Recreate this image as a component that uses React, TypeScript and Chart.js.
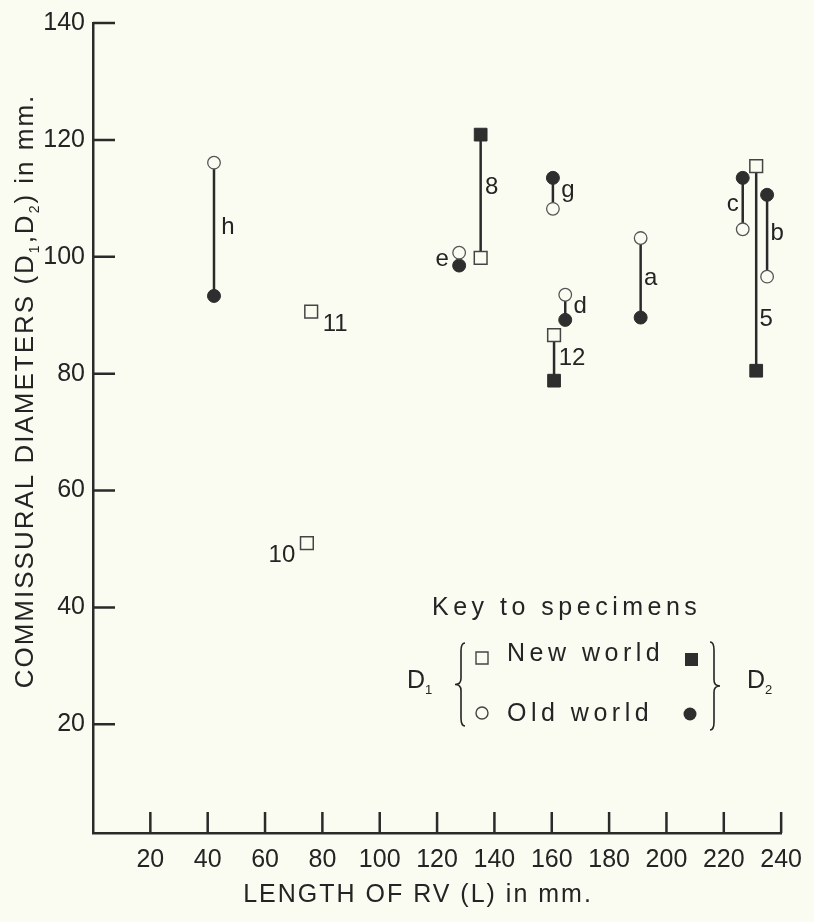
import React, { useEffect, useRef } from 'react';
import { Chart, registerables } from 'chart.js';

Chart.register(...registerables);

// ---- data ----
const newWorldIds = ['8', '12', '5', '10', '11'];
const newWorldL = [135.2, 160.8, 231.3, 74.6, 76.1];
const newWorldD1 = [99.8, 86.6, 115.5, 51.0, 90.6];
const newWorldD2: (number | null)[] = [120.9, 78.8, 80.5, null, null];

const oldWorldIds = ['h', 'e', 'g', 'd', 'a', 'c', 'b'];
const oldWorldL = [42.2, 127.7, 160.4, 164.7, 191.0, 226.6, 235.1];
const oldWorldD1 = [116.1, 100.7, 108.2, 93.5, 103.2, 104.7, 96.6];
const oldWorldD2 = [93.3, 98.5, 113.5, 89.2, 89.6, 113.5, 110.6];

const xTickValues = [20, 40, 60, 80, 100, 120, 140, 160, 180, 200, 220, 240];
const yTickValues = [20, 40, 60, 80, 100, 120, 140];

const xTitle = 'LENGTH OF RV (L) in mm.';
const keyTitle = 'Key to specimens';
const keyNew = 'New world';
const keyOld = 'Old world';

// ---- styling / placement (pixels) ----
const FONT = '"Liberation Sans", Arial, Helvetica, sans-serif';
const INK = '#242424';
const PAPER = '#fbfcf1';
const LINE = '#2a2a2a';

// label offsets relative to the middle of each specimen's marks
const labelOffsets: Record<string, [number, number]> = {
  h: [14, -2], '8': [11, -9], e: [-17, 0], g: [15, -3], d: [15, -1],
  '12': [18, 1], a: [10, 1], c: [-10, 1], b: [10, -2], '5': [10, 51],
  '10': [-25, 12], '11': [24, 13],
};

type Part = { t: string; sub?: boolean };

function drawParts(
  ctx: CanvasRenderingContext2D,
  parts: Part[],
  x: number,
  yCenter: number,
  size: number,
  subSize: number,
  spacing: number,
  align: 'left' | 'center'
) {
  ctx.textAlign = 'left';
  ctx.textBaseline = 'alphabetic';
  (ctx as any).letterSpacing = spacing + 'px';
  const widths = parts.map((p) => {
    ctx.font = `${p.sub ? subSize : size}px ${FONT}`;
    return ctx.measureText(p.t).width;
  });
  const total = widths.reduce((a, b) => a + b, 0);
  let cx = align === 'center' ? x - total / 2 : x;
  const base = yCenter + size * 0.36;
  parts.forEach((p, i) => {
    ctx.font = `${p.sub ? subSize : size}px ${FONT}`;
    ctx.fillText(p.t, cx, p.sub ? base + size * 0.22 : base);
    cx += widths[i];
  });
}

function drawBrace(ctx: CanvasRenderingContext2D, xa: number, top: number, bottom: number, d: number) {
  const mid = (top + bottom) / 2;
  ctx.beginPath();
  ctx.moveTo(xa + d * 4, top);
  ctx.quadraticCurveTo(xa, top, xa, top + 8);
  ctx.lineTo(xa, mid - 6);
  ctx.quadraticCurveTo(xa, mid, xa - d * 6, mid);
  ctx.quadraticCurveTo(xa, mid, xa, mid + 6);
  ctx.lineTo(xa, bottom - 8);
  ctx.quadraticCurveTo(xa, bottom, xa + d * 4, bottom);
  ctx.stroke();
}

const decorPlugin = {
  id: 'decor',
  afterDatasetsDraw(chart: any) {
    const ctx: CanvasRenderingContext2D = chart.ctx;
    const { left, bottom } = chart.chartArea;
    const xs = chart.scales.x;
    const ys = chart.scales.y;
    ctx.save();
    // inward tick marks
    ctx.strokeStyle = LINE;
    ctx.lineWidth = 2.5;
    ctx.beginPath();
    xTickValues.forEach((v) => {
      const px = xs.getPixelForValue(v);
      ctx.moveTo(px, bottom);
      ctx.lineTo(px, bottom - 21);
    });
    yTickValues.forEach((v) => {
      const py = ys.getPixelForValue(v);
      ctx.moveTo(left, py);
      ctx.lineTo(left + 22, py);
    });
    ctx.stroke();

    // specimen labels
    ctx.fillStyle = INK;
    ctx.font = `24px ${FONT}`;
    ctx.textAlign = 'center';
    ctx.textBaseline = 'middle';
    const place = (id: string, L: number, a: number, b: number | null) => {
      const off = labelOffsets[id];
      if (!off) return;
      const mid = b == null ? a : (a + b) / 2;
      const px = xs.getPixelForValue(L) + off[0];
      const py = ys.getPixelForValue(mid) + off[1];
      ctx.fillText(id, px, py);
    };
    newWorldIds.forEach((id, i) => place(id, newWorldL[i], newWorldD1[i], newWorldD2[i]));
    oldWorldIds.forEach((id, i) => place(id, oldWorldL[i], oldWorldD1[i], oldWorldD2[i]));

    // axis titles
    drawParts(ctx, [{ t: xTitle }], 418, 893, 25, 15, 2, 'center');
    ctx.save();
    ctx.translate(24, 391);
    ctx.rotate(-Math.PI / 2);
    drawParts(
      ctx,
      [
        { t: 'COMMISSURAL DIAMETERS (D' },
        { t: '1', sub: true },
        { t: ',D' },
        { t: '2', sub: true },
        { t: ') in mm.' },
      ],
      0,
      0,
      26,
      14,
      2,
      'center'
    );
    ctx.restore();

    // key
    drawParts(ctx, [{ t: keyTitle }], 432, 606, 25, 14, 4.5, 'left');
    drawParts(ctx, [{ t: keyNew }], 507, 652, 25, 14, 4.5, 'left');
    drawParts(ctx, [{ t: keyOld }], 507, 712, 25, 14, 4.5, 'left');
    drawParts(ctx, [{ t: 'D' }, { t: '1', sub: true }], 407, 679, 25, 13, 0, 'left');
    drawParts(ctx, [{ t: 'D' }, { t: '2', sub: true }], 747, 679, 25, 13, 0, 'left');
    ctx.strokeStyle = INK;
    ctx.lineWidth = 1.6;
    drawBrace(ctx, 461, 643, 726, 1);
    drawBrace(ctx, 714, 642, 730, -1);
    // key symbols
    ctx.lineWidth = 1.4;
    ctx.strokeStyle = '#444';
    ctx.fillStyle = PAPER;
    ctx.beginPath();
    ctx.rect(476, 652, 12, 12);
    ctx.fill();
    ctx.stroke();
    ctx.beginPath();
    ctx.arc(482, 713, 6, 0, Math.PI * 2);
    ctx.fill();
    ctx.stroke();
    ctx.fillStyle = '#2e2e2e';
    ctx.fillRect(685, 653, 13, 13);
    ctx.beginPath();
    ctx.arc(690, 714, 6.5, 0, Math.PI * 2);
    ctx.fill();
    ctx.restore();
  },
};

export default function App() {
  const ref = useRef<HTMLCanvasElement>(null);

  useEffect(() => {
    document.body.style.margin = '0';
    document.body.style.background = PAPER;
    const canvas = ref.current;
    if (!canvas) return;

    const lineSets: any[] = [];
    newWorldIds.forEach((id, i) => {
      const d2 = newWorldD2[i];
      if (d2 == null) return;
      lineSets.push({
        label: 'pair ' + id,
        data: [
          { x: newWorldL[i], y: newWorldD1[i] },
          { x: newWorldL[i], y: d2 },
        ],
        showLine: true,
        borderColor: LINE,
        borderWidth: 2.5,
        pointRadius: 0,
        order: 10,
      });
    });
    oldWorldIds.forEach((id, i) => {
      lineSets.push({
        label: 'pair ' + id,
        data: [
          { x: oldWorldL[i], y: oldWorldD1[i] },
          { x: oldWorldL[i], y: oldWorldD2[i] },
        ],
        showLine: true,
        borderColor: LINE,
        borderWidth: 2.5,
        pointRadius: 0,
        order: 10,
      });
    });

    const pts = (L: number[], D: (number | null)[]) =>
      L.map((x, i) => (D[i] == null ? null : { x, y: D[i] as number })).filter(Boolean);

    const chart = new Chart(canvas, {
      type: 'scatter',
      data: {
        datasets: [
          ...lineSets,
          {
            label: 'D1 New world',
            data: pts(newWorldL, newWorldD1),
            pointStyle: 'rect',
            pointRadius: 9,
            backgroundColor: PAPER,
            borderColor: '#444',
            borderWidth: 1.5,
            order: 1,
          },
          {
            label: 'D2 New world',
            data: pts(newWorldL, newWorldD2),
            pointStyle: 'rect',
            pointRadius: 9,
            backgroundColor: '#2e2e2e',
            borderColor: '#2e2e2e',
            borderWidth: 1,
            order: 1,
          },
          {
            label: 'D1 Old world',
            data: pts(oldWorldL, oldWorldD1),
            pointStyle: 'circle',
            pointRadius: 6.3,
            backgroundColor: PAPER,
            borderColor: '#555',
            borderWidth: 1.3,
            order: 1,
          },
          {
            label: 'D2 Old world',
            data: pts(oldWorldL, oldWorldD2),
            pointStyle: 'circle',
            pointRadius: 6.5,
            backgroundColor: '#2e2e2e',
            borderColor: '#2e2e2e',
            borderWidth: 1,
            order: 1,
          },
        ],
      },
      options: {
        responsive: false,
        animation: false,
        events: [],
        layout: { padding: { top: 21, right: 29, left: 0, bottom: 0 } },
        plugins: { legend: { display: false }, tooltip: { enabled: false } },
        scales: {
          x: {
            type: 'linear',
            min: 0,
            max: 240,
            afterBuildTicks: (s: any) => {
              s.ticks = xTickValues.map((v) => ({ value: v }));
            },
            afterFit: (s: any) => {
              s.height = 89;
            },
            grid: { display: false, drawTicks: false, tickLength: 0 },
            border: { display: true, color: LINE, width: 2.5 },
            ticks: {
              color: INK,
              font: { family: FONT, size: 25 },
              padding: 12,
              maxRotation: 0,
              autoSkip: false,
            },
          },
          y: {
            type: 'linear',
            min: 1.4,
            max: 140,
            afterBuildTicks: (s: any) => {
              s.ticks = yTickValues.map((v) => ({ value: v }));
            },
            afterFit: (s: any) => {
              s.width = 93;
            },
            grid: { display: false, drawTicks: false, tickLength: 0 },
            border: { display: true, color: LINE, width: 2.5 },
            ticks: {
              color: INK,
              font: { family: FONT, size: 25 },
              padding: 8,
              autoSkip: false,
            },
          },
        },
      } as any,
      plugins: [decorPlugin],
    });
    return () => chart.destroy();
  }, []);

  return (
    <div style={{ width: 814, height: 922, background: PAPER }}>
      <canvas ref={ref} width={814} height={922} style={{ display: 'block', width: 814, height: 922 }} />
    </div>
  );
}
